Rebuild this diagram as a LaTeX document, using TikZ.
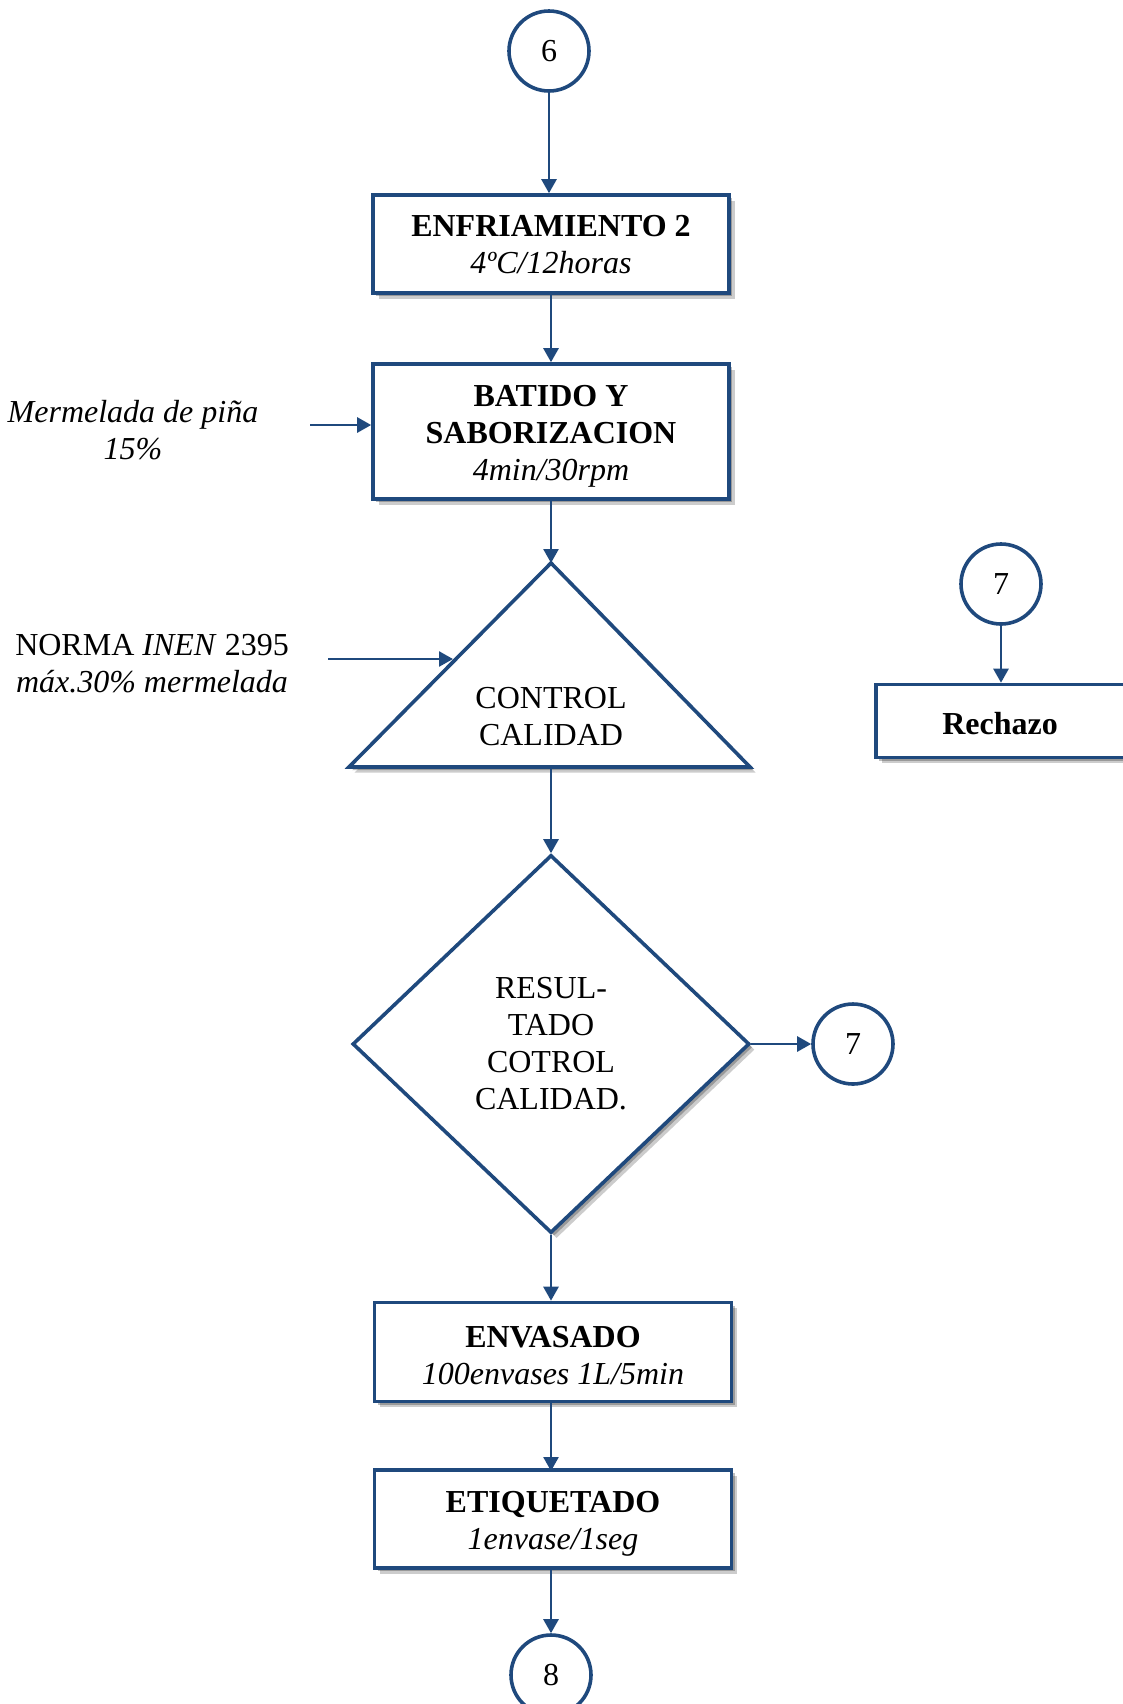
\documentclass[tikz,border=0pt]{standalone}
\usepackage{fontspec}
\setmainfont{Liberation Serif}
\usetikzlibrary{shapes.geometric,shadows,arrows.meta}
\definecolor{flowblue}{RGB}{31,73,125}
% centred stack of lines; the optional length moves the lines down inside the node
\newcommand{\linestack}[2][0pt]{%
  \raisebox{0pt}[\dimexpr\height+#1\relax][\dimexpr\depth-#1\relax]{%
    \begin{tabular}{@{}c@{}}#2\end{tabular}}}
\begin{document}
\begin{tikzpicture}[x=0.5pt,y=-0.5pt,
  every node/.style={font=\fontsize{16}{18.5}\selectfont},
  boxshadow/.style={
    drop shadow={shadow xshift=2.8pt,shadow yshift=-2.8pt,opacity=0.2,fill=black},
    drop shadow={shadow xshift=1.6pt,shadow yshift=-1.6pt,opacity=0.25,fill=black}},
  outline/.style={draw=flowblue,line width=1.8pt,fill=white},
  procbox/.style={outline,inner sep=0pt,boxshadow},
  connector/.style={circle,outline,minimum size=40pt,inner sep=0pt},
  flow/.style={draw=flowblue,line width=1.3pt,-{Triangle[length=7pt,width=7.5pt]}},
]
\useasboundingbox (0,0) rectangle (1123,1704);
\clip (0,0) rectangle (1123,1704);

% main column
\node[connector] (c6) at (549,51) {6};
\node[procbox,minimum width=178pt,minimum height=49pt] (enf) at (551,244)
  {\linestack[1.6pt]{\textbf{ENFRIAMIENTO 2}\\\textit{4ºC/12horas}}};
\node[procbox,minimum width=178pt,minimum height=67.5pt] (bat) at (551,431.5)
  {\linestack[2.2pt]{\textbf{BATIDO Y}\\\textbf{SABORIZACION}\\\textit{4min/30rpm}}};

% quality control triangle
\draw[outline,boxshadow] (551,563) coordinate (tapex) -- (750,767) -- (349,767) -- cycle;
\coordinate (tbase) at (551,767);
\node[align=center] (qc) at (551,717) {CONTROL\\CALIDAD};

% decision
\node[diamond,outline,boxshadow,minimum width=198.5pt,minimum height=189pt,
      inner sep=0pt,align=center] (res) at (551,1044)
  {RESUL-\\TADO\\COTROL\\CALIDAD.};
\node[connector] (c7a) at (853,1044) {7};

\node[procbox,minimum width=178.5pt,minimum height=49.5pt] (env) at (553,1352)
  {\linestack[3.5pt]{\textbf{ENVASADO}\\\textit{100envases 1L/5min}}};
\node[procbox,minimum width=178.5pt,minimum height=49pt] (eti) at (553,1519)
  {\linestack[2.5pt]{\textbf{ETIQUETADO}\\\textit{1envase/1seg}}};
\node[connector] (c8) at (551,1675) {8};

% rejection branch
\node[connector] (c7b) at (1001,584) {7};
\node[procbox,minimum width=127pt,minimum height=36.5pt] (rech) at (1003,721)
  {\linestack[3pt]{\hspace*{-3pt}\textbf{Rechazo}}};

% side inputs
\node[align=center] (merm) at (133,430) {\textit{Mermelada de piña}\\\textit{15\%}};
\coordinate (mfrom) at (310,425);
\node[align=center] (norma) at (152,664)
  {NORMA \textit{INEN} 2395\\\textit{máx.30\% mermelada}};
\coordinate (nfrom) at (328,659);
\coordinate (nto) at (453,659);
\coordinate (envin) at (551,1402);
\coordinate (etiin) at (551,1471);

% connectors
\draw[flow] (c6.south) -- (c6.south |- enf.north);
\draw[flow] (enf.south) -- (bat.north);
\draw[flow] (bat.south) -- (tapex);
\draw[flow] (mfrom) -- (bat.west |- mfrom);
\draw[flow] (nfrom) -- (nto);
\draw[flow] (tbase) -- (res.north);
\draw[flow] (res.east) -- (c7a.west);
\draw[flow] (res.south) -- (res.south |- env.north);
\draw[flow] (envin) -- (etiin);
\draw[flow] (eti.south -| c8) -- (c8.north);
\draw[flow] (c7b.south) -- (c7b.south |- rech.north);
\end{tikzpicture}
\end{document}
